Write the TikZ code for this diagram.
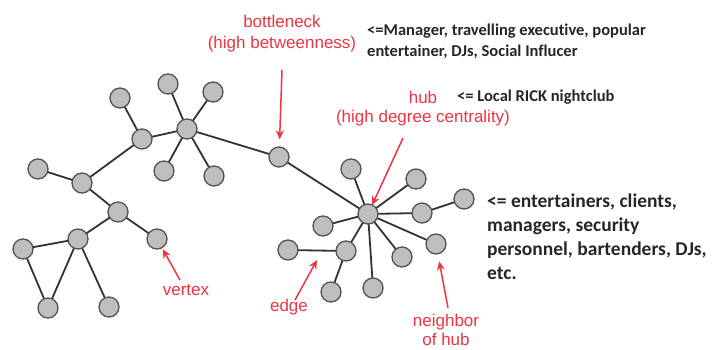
\documentclass[tikz,border=0pt]{standalone}
\usepackage{fontspec}
\setmainfont{Liberation Sans}
\newfontfamily\calib[Ligatures=NoCommon]{Carlito}
\usetikzlibrary{arrows.meta,backgrounds}
\definecolor{redc}{HTML}{EC3540}
\definecolor{nodefill}{HTML}{BEBEBE}
\definecolor{edgec}{HTML}{333333}
\tikzset{
  vtx/.style={circle, draw=edgec!85, line width=1.3pt, fill=nodefill, minimum size=20pt, inner sep=0pt},
  lnk/.style={draw=edgec, line width=1.8pt},
  redlab/.style={text=redc, font=\fontsize{17}{21}\selectfont, align=center, inner sep=0pt},
  blk/.style={text=black!85, font=\calib\bfseries, align=left, inner sep=0pt, anchor=west},
  rarr/.style={draw=redc, line width=1.5pt, -{Stealth[length=9pt,width=8pt]}},
}
\begin{document}
\begin{tikzpicture}[x=1pt,y=-1pt]
\useasboundingbox (0,0) rectangle (712,350);
% left cluster
\node[vtx] (A) at (120,98) {};
\node[vtx] (B) at (142,139) {};
\node[vtx] (C) at (187,129) {};
\node[vtx] (c1) at (168,84) {};
\node[vtx] (c2) at (213,92) {};
\node[vtx] (c3) at (164,171) {};
\node[vtx] (c4) at (214,176) {};
\node[vtx] (BN) at (279,157) {};
\node[vtx] (D) at (38,169) {};
\node[vtx] (E) at (82,183) {};
\node[vtx] (F) at (118,212) {};
\node[vtx] (G) at (157,239) {};
\node[vtx] (H) at (78,239) {};
\node[vtx] (I) at (23,249) {};
\node[vtx] (J) at (48,308) {};
\node[vtx] (K) at (109,307) {};
% hub cluster
\node[vtx] (hub) at (368,214) {};
\node[vtx] (h1) at (351,169) {};
\node[vtx] (h2) at (416,179) {};
\node[vtx] (h3) at (422,213) {};
\node[vtx] (h4) at (464,199) {};
\node[vtx] (h5) at (323,226) {};
\node[vtx] (h6) at (346,251) {};
\node[vtx] (h7) at (288,250) {};
\node[vtx] (h8) at (331,292) {};
\node[vtx] (h9) at (373,288) {};
\node[vtx] (h10) at (402,257) {};
\node[vtx] (h11) at (436,244) {};
% edges
\begin{pgfonlayer}{background}
\foreach \a/\b in {A/B,B/C,C/c1,C/c2,C/c3,C/c4,C/BN,BN/hub,B/E,D/E,E/F,F/G,F/H,H/I,I/J,H/J,H/K,
  hub/h1,hub/h2,hub/h3,h3/h4,hub/h5,hub/h6,h6/h7,h6/h8,hub/h9,hub/h10,hub/h11}
  \draw[lnk] (\a.center) -- (\b.center);
\end{pgfonlayer}
% labels
\node[redlab] (bnlab) at (282,34) {bottleneck\\(high betweenness)};
\node[redlab] (hublab) at (423,97) {hub};
\node[redlab] (hubdeg) at (423,118) {(high degree centrality)};
\node[redlab] (vlab) at (186,290) {vertex};
\node[redlab] (elab) at (289,307) {edge};
\node[redlab, font=\fontsize{17}{19}\selectfont] (nlab) at (446,330) {neighbor\\of hub};
\node[blk, font=\calib\bfseries\fontsize{16.5}{21}\selectfont] (t1) at (367,41) {<=Manager, travelling executive, popular\\entertainer, DJs, Social Influcer};
\node[blk, font=\calib\bfseries\fontsize{16.5}{18}\selectfont] (t2) at (457,97) {<= Local RICK nightclub};
\node[blk, font=\calib\bfseries\fontsize{19.5}{24}\selectfont] (t3) at (487,237) {<= entertainers, clients,\\managers, security\\personnel, bartenders, DJs,\\etc.};
% arrows
\coordinate (bnA) at (282,70);
\coordinate (hubA) at (403,138);
\coordinate (vA) at (180,280);
\coordinate (eA) at (295,300);
\coordinate (eT) at (317,260);
\coordinate (nA) at (448,308);
\draw[rarr, shorten >=7pt] (bnA) -- (BN);
\draw[rarr, shorten >=-1pt] (hubA) -- (hub);
\draw[rarr, shorten >=1pt] (vA) -- (G);
\draw[rarr] (eA) -- (eT);
\draw[rarr, shorten >=7pt] (nA) -- (h11);
\end{tikzpicture}
\end{document}
